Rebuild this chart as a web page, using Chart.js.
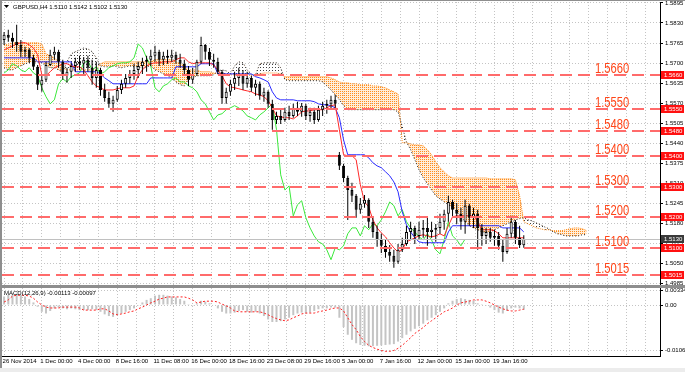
<!DOCTYPE html>
<html>
<head>
<meta charset="utf-8">
<script src="https://cdn.jsdelivr.net/npm/chart.js@4.4.1/dist/chart.umd.min.js"></script>
<style>
  html, body { margin: 0; padding: 0; }
  body { width: 685px; height: 372px; background: #8e8e8e; position: relative; overflow: hidden; }
  canvas { position: absolute; background: #fff; }
  #main { left: 2px; top: 1px; }
  #macd { left: 2px; top: 288px; }
  #tabs { position: absolute; left: 0; top: 368px; width: 685px; height: 4px; background: #ececec; }
</style>
</head>
<body>
<canvas id="main" width="683" height="284"></canvas>
<canvas id="macd" width="683" height="80"></canvas>
<div id="tabs"></div>
<script>
// GBPUSD H4, 26 Nov 2014 - 20 Jan 2015 (one slot = one candle)
const symbol = 'GBPUSD,H4';
const timeLabels = ['26 Nov 2014', '1 Dec 00:00', '4 Dec 00:00', '8 Dec 16:00', '11 Dec 08:00',
  '16 Dec 00:00', '18 Dec 16:00', '23 Dec 08:00', '29 Dec 16:00', '5 Jan 00:00',
  '7 Jan 16:00', '12 Jan 00:00', '15 Jan 00:00', '19 Jan 16:00'];
const priceTicks = [1.5895, 1.5830, 1.5765, 1.5700, 1.5635, 1.5570, 1.5505, 1.5440,
  1.5375, 1.5310, 1.5245, 1.5180, 1.5115, 1.5050, 1.4985];
const levels = [1.5660, 1.5550, 1.5480, 1.5400, 1.5300, 1.5200, 1.5100, 1.5015];
const macdTicks = [0.00334, 0, -0.01061];

const opens = [1.5775,1.5792,1.5782,1.5769,1.5759,1.5737,1.5743,1.5717,1.5688,1.5630,
  1.5646,1.5694,1.5727,1.5737,1.5704,1.5659,1.5672,1.5691,1.5704,1.5698,
  1.5711,1.5685,1.5652,1.5678,1.5613,1.5587,1.5568,1.5581,1.5613,1.5633,
  1.5652,1.5665,1.5678,1.5691,1.5704,1.5711,1.5724,1.5737,1.5711,1.5724,
  1.5717,1.5727,1.5711,1.5698,1.5678,1.5646,1.5665,1.5704,1.5759,1.5737,
  1.5711,1.5704,1.5672,1.5587,1.5607,1.5633,1.5652,1.5665,1.5633,1.5652,
  1.5620,1.5633,1.5594,1.5607,1.5568,1.5516,1.5529,1.5516,1.5542,1.5529,
  1.5555,1.5542,1.5562,1.5529,1.5542,1.5516,1.5549,1.5562,1.5568,1.5581,
  1.5403,1.5367,1.5328,1.5289,1.5270,1.5225,1.5244,1.5257,1.5186,1.5153,
  1.5127,1.5108,1.5088,1.5076,1.5056,1.5095,1.5114,1.5153,1.5166,1.5140,
  1.5160,1.5166,1.5153,1.5160,1.5166,1.5186,1.5212,1.5250,1.5225,1.5212,
  1.5186,1.5238,1.5199,1.5212,1.5166,1.5140,1.5153,1.5134,1.5140,1.5108,
  1.5088,1.5147,1.5186,1.5134,1.5110];
const highs = [1.5801,1.5808,1.5798,1.5824,1.5775,1.5753,1.5749,1.5727,1.5694,1.5662,
  1.5704,1.5743,1.5753,1.5743,1.5711,1.5685,1.5701,1.5717,1.5724,1.5720,
  1.5724,1.5711,1.5704,1.5685,1.5633,1.5607,1.5594,1.5626,1.5646,1.5665,
  1.5678,1.5698,1.5704,1.5717,1.5724,1.5743,1.5756,1.5743,1.5737,1.5743,
  1.5743,1.5737,1.5730,1.5711,1.5691,1.5685,1.5711,1.5785,1.5762,1.5749,
  1.5730,1.5717,1.5678,1.5620,1.5646,1.5672,1.5685,1.5678,1.5672,1.5659,
  1.5646,1.5640,1.5620,1.5612,1.5581,1.5542,1.5549,1.5555,1.5562,1.5568,
  1.5575,1.5571,1.5568,1.5555,1.5555,1.5562,1.5575,1.5581,1.5594,1.5597,
  1.5412,1.5374,1.5335,1.5312,1.5276,1.5263,1.5273,1.5262,1.5199,1.5173,
  1.5147,1.5127,1.5111,1.5095,1.5114,1.5134,1.5173,1.5186,1.5173,1.5186,
  1.5192,1.5199,1.5186,1.5179,1.5212,1.5225,1.5270,1.5257,1.5247,1.5231,
  1.5257,1.5244,1.5231,1.5225,1.5179,1.5166,1.5166,1.5160,1.5153,1.5127,
  1.5166,1.5205,1.5192,1.5173,1.5142];
const lows = [1.5759,1.5769,1.5749,1.5737,1.5720,1.5720,1.5701,1.5678,1.5613,1.5607,
  1.5639,1.5691,1.5711,1.5685,1.5646,1.5636,1.5652,1.5672,1.5678,1.5665,
  1.5672,1.5630,1.5620,1.5594,1.5575,1.5555,1.5542,1.5575,1.5600,1.5620,
  1.5633,1.5646,1.5652,1.5665,1.5672,1.5691,1.5704,1.5691,1.5694,1.5698,
  1.5704,1.5698,1.5685,1.5665,1.5626,1.5633,1.5659,1.5698,1.5711,1.5691,
  1.5685,1.5665,1.5568,1.5568,1.5594,1.5613,1.5626,1.5613,1.5620,1.5607,
  1.5594,1.5581,1.5575,1.5555,1.5484,1.5503,1.5503,1.5510,1.5516,1.5523,
  1.5529,1.5526,1.5516,1.5510,1.5503,1.5510,1.5529,1.5536,1.5549,1.5555,
  1.5354,1.5315,1.5192,1.5250,1.5199,1.5212,1.5231,1.5166,1.5134,1.5105,
  1.5085,1.5069,1.5056,1.5037,1.5050,1.5088,1.5108,1.5127,1.5114,1.5127,
  1.5134,1.5108,1.5134,1.5121,1.5147,1.5160,1.5186,1.5199,1.5179,1.5160,
  1.5147,1.5173,1.5166,1.5095,1.5108,1.5114,1.5121,1.5108,1.5095,1.5056,
  1.5082,1.5134,1.5114,1.5101,1.5102];
const closes = [1.5792,1.5782,1.5769,1.5759,1.5737,1.5743,1.5717,1.5688,1.5630,1.5646,
  1.5694,1.5727,1.5737,1.5704,1.5659,1.5672,1.5691,1.5704,1.5698,1.5711,
  1.5685,1.5652,1.5678,1.5613,1.5587,1.5568,1.5581,1.5613,1.5633,1.5652,
  1.5665,1.5678,1.5691,1.5704,1.5711,1.5724,1.5737,1.5711,1.5724,1.5717,
  1.5727,1.5711,1.5698,1.5678,1.5646,1.5665,1.5704,1.5759,1.5737,1.5711,
  1.5704,1.5672,1.5587,1.5607,1.5633,1.5652,1.5665,1.5633,1.5652,1.5620,
  1.5633,1.5594,1.5607,1.5568,1.5516,1.5529,1.5516,1.5542,1.5529,1.5555,
  1.5542,1.5562,1.5529,1.5542,1.5516,1.5549,1.5562,1.5568,1.5581,1.5568,
  1.5367,1.5328,1.5289,1.5270,1.5225,1.5244,1.5257,1.5186,1.5153,1.5127,
  1.5108,1.5088,1.5076,1.5056,1.5095,1.5114,1.5153,1.5166,1.5140,1.5160,
  1.5166,1.5153,1.5160,1.5166,1.5186,1.5212,1.5250,1.5225,1.5212,1.5186,
  1.5238,1.5199,1.5212,1.5166,1.5140,1.5153,1.5134,1.5140,1.5108,1.5088,
  1.5147,1.5186,1.5134,1.5110,1.5130];

// Ichimoku lines
const tenkan = [1.5743,1.5749,1.5756,1.5762,1.5766,1.5766,1.5759,1.5749,1.5727,1.5662,
  1.5659,1.5672,1.5685,1.5691,1.5698,1.5698,1.5691,1.5688,1.5688,1.5678,
  1.5659,1.5639,1.5626,1.5620,1.5613,1.5613,1.5613,1.5617,1.5620,1.5620,
  1.5620,1.5626,1.5659,1.5678,1.5691,1.5698,1.5701,1.5701,1.5704,1.5704,
  1.5704,1.5711,1.5717,1.5717,1.5704,1.5698,1.5701,1.5701,1.5701,1.5701,
  1.5694,1.5678,1.5659,1.5633,1.5623,1.5620,1.5617,1.5613,1.5610,1.5607,
  1.5600,1.5597,1.5591,1.5578,1.5555,1.5529,1.5526,1.5523,1.5523,1.5519,
  1.5529,1.5542,1.5545,1.5545,1.5549,1.5549,1.5549,1.5555,1.5562,1.5565,
  1.5484,1.5403,1.5400,1.5400,1.5387,1.5306,1.5250,1.5234,1.5192,1.5166,
  1.5150,1.5137,1.5118,1.5101,1.5088,1.5095,1.5121,1.5127,1.5134,1.5140,
  1.5144,1.5140,1.5137,1.5140,1.5147,1.5140,1.5173,1.5202,1.5205,1.5205,
  1.5205,1.5205,1.5205,1.5186,1.5160,1.5160,1.5160,1.5157,1.5147,1.5134,
  1.5134,1.5134,1.5134,1.5134,1.5134];
const kijun = [1.5717,1.5717,1.5717,1.5717,1.5717,1.5717,1.5717,1.5717,1.5704,1.5704,
  1.5704,1.5704,1.5704,1.5704,1.5704,1.5704,1.5704,1.5672,1.5672,1.5672,
  1.5672,1.5672,1.5672,1.5665,1.5652,1.5643,1.5633,1.5633,1.5633,1.5633,
  1.5633,1.5633,1.5633,1.5633,1.5633,1.5652,1.5652,1.5652,1.5652,1.5652,
  1.5652,1.5688,1.5688,1.5688,1.5688,1.5688,1.5688,1.5698,1.5698,1.5698,
  1.5698,1.5665,1.5665,1.5665,1.5665,1.5665,1.5665,1.5665,1.5665,1.5665,
  1.5656,1.5652,1.5646,1.5639,1.5607,1.5587,1.5581,1.5581,1.5581,1.5581,
  1.5578,1.5578,1.5578,1.5578,1.5575,1.5568,1.5565,1.5565,1.5562,1.5555,
  1.5523,1.5451,1.5403,1.5403,1.5403,1.5403,1.5403,1.5393,1.5377,1.5367,
  1.5361,1.5348,1.5335,1.5315,1.5283,1.5218,1.5176,1.5153,1.5134,1.5121,
  1.5118,1.5118,1.5118,1.5118,1.5118,1.5118,1.5153,1.5173,1.5173,1.5173,
  1.5173,1.5173,1.5173,1.5173,1.5173,1.5173,1.5173,1.5173,1.5173,1.5166,
  1.5166,1.5166,1.5166,1.5166,1.5153];
const chikou = [1.5668,1.5678,1.5698,1.5691,1.5678,1.5672,1.5685,1.5668,1.5659,1.5620,
  1.5591,1.5568,1.5581,1.5633,1.5649,1.5639,1.5656,1.5662,1.5668,1.5701,
  1.5707,1.5678,1.5688,1.5665,1.5672,1.5685,1.5691,1.5698,1.5701,1.5701,
  1.5704,1.5717,1.5762,1.5749,1.5717,1.5691,1.5620,1.5607,1.5626,1.5633,
  1.5646,1.5652,1.5639,1.5639,1.5626,1.5620,1.5607,1.5581,1.5568,1.5542,
  1.5516,1.5532,1.5536,1.5549,1.5555,1.5562,1.5555,1.5545,1.5529,1.5523,
  1.5516,1.5532,1.5542,1.5555,1.5568,1.5484,1.5338,1.5289,1.5302,1.5205,
  1.5241,1.5254,1.5199,1.5166,1.5140,1.5121,1.5114,1.5095,1.5063,1.5101,
  1.5095,1.5108,1.5147,1.5166,1.5166,1.5140,1.5173,1.5160,1.5179,1.5173,
  1.5192,1.5218,1.5250,1.5238,1.5205,1.5225,1.5186,1.5166,1.5153,1.5137,
  1.5127,1.5147,1.5127,1.5095,1.5082,1.5127,1.5186,1.5140,1.5127,1.5108,
  1.5130];
const spanA = [1.5685,1.5678,1.5678,1.5685,1.5691,1.5698,1.5701,1.5704,1.5704,1.5701,
  1.5691,1.5685,1.5685,1.5678,1.5672,1.5704,1.5730,1.5737,1.5743,1.5749,
  1.5746,1.5737,1.5717,1.5691,1.5688,1.5688,1.5691,1.5688,1.5685,1.5688,
  1.5691,1.5688,1.5688,1.5685,1.5688,1.5691,1.5678,1.5672,1.5665,1.5659,
  1.5652,1.5639,1.5630,1.5626,1.5646,1.5652,1.5659,1.5659,1.5659,1.5659,
  1.5662,1.5675,1.5678,1.5675,1.5665,1.5691,1.5704,1.5701,1.5678,1.5662,
  1.5662,1.5698,1.5701,1.5701,1.5701,1.5701,1.5685,1.5646,1.5643,1.5643,
  1.5643,1.5643,1.5643,1.5643,1.5643,1.5643,1.5639,1.5626,1.5613,1.5597,
  1.5581,1.5562,1.5549,1.5549,1.5549,1.5549,1.5549,1.5549,1.5549,1.5549,
  1.5549,1.5549,1.5549,1.5549,1.5542,1.5494,1.5445,1.5419,1.5387,1.5354,
  1.5328,1.5309,1.5289,1.5270,1.5260,1.5250,1.5241,1.5234,1.5218,1.5205,
  1.5186,1.5173,1.5166,1.5160,1.5153,1.5153,1.5153,1.5160,1.5166,1.5173,
  1.5179,1.5186,1.5192,1.5196,1.5199,1.5192,1.5189,1.5182,1.5176,1.5169,
  1.5163,1.5153,1.5147,1.5144,1.5140,1.5140,1.5140,1.5140,1.5144,1.5144];
const spanB = [1.5759,1.5762,1.5766,1.5766,1.5766,1.5766,1.5766,1.5766,1.5766,1.5762,
  1.5730,1.5724,1.5717,1.5704,1.5685,1.5678,1.5678,1.5678,1.5678,1.5678,
  1.5678,1.5678,1.5678,1.5698,1.5704,1.5704,1.5704,1.5704,1.5704,1.5704,
  1.5704,1.5704,1.5704,1.5704,1.5704,1.5704,1.5711,1.5711,1.5711,1.5711,
  1.5711,1.5704,1.5698,1.5691,1.5678,1.5678,1.5678,1.5672,1.5672,1.5672,
  1.5668,1.5665,1.5665,1.5665,1.5662,1.5662,1.5662,1.5662,1.5662,1.5659,
  1.5659,1.5665,1.5668,1.5668,1.5668,1.5668,1.5665,1.5656,1.5656,1.5656,
  1.5656,1.5656,1.5656,1.5656,1.5656,1.5656,1.5656,1.5656,1.5652,1.5646,
  1.5639,1.5636,1.5636,1.5633,1.5633,1.5630,1.5630,1.5630,1.5626,1.5626,
  1.5623,1.5620,1.5613,1.5607,1.5600,1.5442,1.5442,1.5438,1.5435,1.5435,
  1.5432,1.5419,1.5403,1.5380,1.5361,1.5348,1.5335,1.5328,1.5328,1.5328,
  1.5328,1.5328,1.5328,1.5328,1.5328,1.5328,1.5325,1.5325,1.5325,1.5325,
  1.5325,1.5325,1.5322,1.5270,1.5186,1.5179,1.5173,1.5166,1.5163,1.5160,
  1.5160,1.5157,1.5157,1.5157,1.5160,1.5163,1.5166,1.5166,1.5163,1.5157];

// MACD(12,26,9)
const macdMain = [0.0020,0.0024,0.0026,0.0026,0.0024,0.0020,0.0014,0.0006,-0.0004,-0.0016,
  -0.0020,-0.0014,-0.0008,-0.0006,-0.0008,-0.0010,-0.0008,-0.0010,-0.0012,-0.0012,
  -0.0012,-0.0010,-0.0012,-0.0016,-0.0022,-0.0026,-0.0028,-0.0024,-0.0020,-0.0016,
  -0.0012,-0.0008,-0.0002,0.0006,0.0012,0.0016,0.0022,0.0024,0.0024,0.0022,
  0.0020,0.0018,0.0014,0.0010,0.0002,-0.0002,0.0004,0.0010,0.0008,0.0004,
  0.0000,-0.0008,-0.0016,-0.0020,-0.0020,-0.0018,-0.0014,-0.0012,-0.0016,-0.0018,
  -0.0016,-0.0020,-0.0026,-0.0034,-0.0040,-0.0040,-0.0038,-0.0034,-0.0030,-0.0024,
  -0.0020,-0.0018,-0.0020,-0.0018,-0.0014,-0.0010,-0.0008,-0.0008,-0.0006,-0.0006,
  -0.0030,-0.0052,-0.0070,-0.0082,-0.0090,-0.0094,-0.0096,-0.0097,-0.0097,-0.0096,
  -0.0095,-0.0094,-0.0093,-0.0092,-0.0086,-0.0078,-0.0070,-0.0062,-0.0056,-0.0050,
  -0.0044,-0.0036,-0.0030,-0.0024,-0.0016,-0.0008,0.0004,0.0010,0.0014,0.0016,
  0.0014,0.0012,0.0010,0.0004,0.0002,-0.0002,-0.0006,-0.0012,-0.0018,-0.0020,
  -0.0014,-0.0008,-0.0006,-0.0008,-0.00113];
const macdSignal = [0.0007,0.0012,0.0021,0.0023,0.0023,0.0023,0.0021,0.0016,0.0007,0.0000,
  -0.0005,-0.0007,-0.0007,-0.0007,-0.0005,-0.0005,-0.0005,-0.0005,-0.0007,-0.0012,
  -0.0012,-0.0012,-0.0012,-0.0009,-0.0009,-0.0014,-0.0021,-0.0023,-0.0021,-0.0019,
  -0.0016,-0.0014,-0.0009,-0.0005,0.0000,0.0005,0.0009,0.0014,0.0016,0.0019,
  0.0019,0.0019,0.0019,0.0019,0.0016,0.0012,0.0005,0.0007,0.0009,0.0009,
  0.0009,0.0007,0.0002,-0.0002,-0.0007,-0.0014,-0.0016,-0.0016,-0.0016,-0.0016,
  -0.0016,-0.0016,-0.0019,-0.0023,-0.0028,-0.0032,-0.0035,-0.0037,-0.0035,-0.0030,
  -0.0026,-0.0021,-0.0019,-0.0019,-0.0019,-0.0016,-0.0014,-0.0012,-0.0009,-0.0007,
  -0.0007,-0.0014,-0.0030,-0.0046,-0.0058,-0.0074,-0.0086,-0.0095,-0.0100,-0.0104,
  -0.0107,-0.0109,-0.0109,-0.0107,-0.0102,-0.0095,-0.0086,-0.0077,-0.0067,-0.0060,
  -0.0053,-0.0044,-0.0037,-0.0030,-0.0023,-0.0016,-0.0012,-0.0007,0.0000,0.0005,
  0.0007,0.0009,0.0012,0.0012,0.0012,0.0009,0.0005,0.0000,-0.0005,-0.0009,
  -0.0012,-0.0014,-0.0014,-0.0012,-0.00097];

Chart.defaults.font.family = '"Liberation Sans", Arial, sans-serif';
Chart.defaults.color = '#000';

const X_MIN = -0.5, X_MAX = 156.5;
const gridSteps = [];
for (let v = 0; v <= X_MAX; v += 4.5) gridSteps.push(v);
const last = closes.length - 1;
const pts = arr => arr.map((v, i) => ({ x: i, y: v }));

function dotPattern(color, tint, w, h) {
  const c = document.createElement('canvas');
  c.width = w; c.height = h;
  const g = c.getContext('2d');
  if (tint) { g.fillStyle = tint; g.fillRect(0, 0, w, h); }
  g.fillStyle = color;
  g.fillRect(0, 0, 1, 1);
  return g.createPattern(c, 'repeat');
}
const orangeDots = dotPattern('#ff8c1a', 'rgba(255,190,120,0.28)', 2, 2);
const blackDots = dotPattern('#404040', null, 3, 3);

function xAxis(withLabels) {
  return {
    type: 'linear', min: X_MIN, max: X_MAX, offset: false,
    grid: { color: '#c4c4c4', drawTicks: false, offset: false },
    border: { display: withLabels, color: '#000', dash: [1, 2] },
    afterBuildTicks: s => { s.ticks = gridSteps.map(v => ({ value: v })); },
    afterFit: s => { s.height = withLabels ? 12 : 0; s.paddingLeft = 0; s.paddingRight = 0; },
    ticks: {
      display: withLabels, autoSkip: false, maxRotation: 0, align: 'start',
      labelOffset: -1.5, padding: 2, font: { size: 6 },
      callback: v => (v % 9 === 0 ? (timeLabels[v / 9] || '') : '')
    }
  };
}

function yAxis(min, max, tickValues, fmt) {
  return {
    type: 'linear', position: 'right', min: min, max: max,
    grid: { color: '#c4c4c4', tickColor: '#000', tickLength: 3, tickBorderDash: [] },
    border: { display: true, color: '#000', dash: [1, 2] },
    afterBuildTicks: s => { s.ticks = tickValues.map(v => ({ value: v })); },
    afterFit: s => { s.width = 25; s.paddingTop = 0; s.paddingBottom = 0; },
    ticks: { padding: 2, font: { size: 6 }, callback: fmt }
  };
}

const common = {
  responsive: false, animation: false, events: [],
  plugins: { legend: { display: false }, tooltip: { enabled: false } },
  elements: { point: { radius: 0 }, line: { borderWidth: 1, tension: 0 } }
};

// price window decorations: levels, bid line, axis boxes, title
const priceDecor = {
  id: 'priceDecor',
  afterDatasetsDraw(chart) {
    const { ctx, chartArea: a, scales: { y } } = chart;
    ctx.save();
    const by = Math.round(y.getPixelForValue(closes[last])) + 0.5;
    ctx.strokeStyle = '#c0c0c0'; ctx.lineWidth = 1;
    ctx.beginPath(); ctx.moveTo(a.left, by); ctx.lineTo(a.right, by); ctx.stroke();
    ctx.strokeStyle = '#ff6b6b'; ctx.lineWidth = 2; ctx.setLineDash([12, 6]);
    levels.forEach(lv => {
      const py = Math.round(y.getPixelForValue(lv));
      ctx.beginPath(); ctx.moveTo(a.left, py); ctx.lineTo(a.right, py); ctx.stroke();
    });
    ctx.setLineDash([]);
    ctx.fillStyle = '#ff4518'; ctx.font = '14px "Liberation Sans"'; ctx.textBaseline = 'alphabetic';
    levels.forEach(lv => {
      const py = y.getPixelForValue(lv);
      ctx.save(); ctx.translate(593, py - 2); ctx.scale(0.8, 1);
      ctx.fillText(lv.toFixed(4), 0, 0); ctx.restore();
    });
    ctx.restore();
  },
  afterDraw(chart) {
    const { ctx, chartArea: a, scales: { y } } = chart;
    ctx.save();
    const box = (v, bg) => {
      const py = Math.round(y.getPixelForValue(v));
      ctx.fillStyle = bg; ctx.fillRect(a.right + 1, py - 4, 23, 8);
      ctx.fillStyle = '#fff'; ctx.font = '6px "Liberation Sans"'; ctx.textBaseline = 'middle';
      ctx.fillText(v.toFixed(4), a.right + 4, py + 0.5);
    };
    levels.forEach(lv => box(lv, '#ff1010'));
    box(closes[last], '#3a3a3a');
    ctx.fillStyle = '#000';
    ctx.beginPath(); ctx.moveTo(2, 4); ctx.lineTo(7, 4); ctx.lineTo(4.5, 7); ctx.closePath(); ctx.fill();
    ctx.font = '6px "Liberation Sans"'; ctx.textBaseline = 'middle';
    ctx.fillText(`${symbol} ${opens[last].toFixed(4)} ${highs[last].toFixed(4)} ${lows[last].toFixed(4)} ${closes[last].toFixed(4)}`, 11, 6);
    ctx.restore();
  }
};

new Chart(document.getElementById('main'), {
  type: 'bar',
  data: {
    datasets: [
      { type: 'bar', label: 'Body', data: opens.map((o, i) => ({ x: i, y: [o, closes[i]] })),
        backgroundColor: opens.map((o, i) => (closes[i] >= o ? '#ffffff' : '#000000')),
        borderColor: '#000', borderWidth: 1, borderSkipped: false, barThickness: 3,
        inflateAmount: 0, grouped: false, order: 0 },
      { type: 'bar', label: 'Wick', data: lows.map((l, i) => ({ x: i, y: [l, highs[i]] })),
        backgroundColor: '#000', barThickness: 1, inflateAmount: 0, grouped: false, order: 1 },
      { type: 'line', label: 'Tenkan-sen', data: pts(tenkan), borderColor: '#ff2a2a', order: 2 },
      { type: 'line', label: 'Kijun-sen', data: pts(kijun), borderColor: '#2b2bff', order: 3 },
      { type: 'line', label: 'Chikou Span', data: pts(chikou), borderColor: '#3be83b', order: 4 },
      { type: 'line', label: 'Senkou Span A', data: pts(spanA), borderColor: '#222', borderDash: [1, 2], order: 5 },
      { type: 'line', label: 'Senkou Span B', data: pts(spanB), borderColor: '#ff8c1a', borderDash: [1, 1], order: 6,
        fill: { target: 5, above: orangeDots, below: blackDots } }
    ]
  },
  options: Object.assign({}, common, {
    layout: { padding: { top: 1, left: 0, right: 0, bottom: 0 } },
    scales: {
      x: xAxis(false),
      y: yAxis(1.4981, 1.5898, priceTicks, v => v.toFixed(4))
    }
  }),
  plugins: [priceDecor]
});

const macdDecor = {
  id: 'macdDecor',
  afterDraw(chart) {
    const { ctx } = chart;
    ctx.save();
    ctx.fillStyle = '#000'; ctx.font = '6px "Liberation Sans"'; ctx.textBaseline = 'middle';
    ctx.fillText(`MACD(12,26,9) ${macdMain[last].toFixed(5)} ${macdSignal[last].toFixed(5)}`, 2, 5);
    ctx.restore();
  }
};

new Chart(document.getElementById('macd'), {
  type: 'bar',
  data: {
    datasets: [
      { type: 'bar', label: 'MACD', data: pts(macdMain), backgroundColor: '#c4c4c4',
        barThickness: 2, inflateAmount: 0, grouped: false, order: 1 },
      { type: 'line', label: 'Signal', data: pts(macdSignal), borderColor: '#ff2020',
        borderDash: [2, 2], order: 0 }
    ]
  },
  options: Object.assign({}, common, {
    layout: { padding: 0 },
    scales: {
      x: xAxis(true),
      y: yAxis(-0.0120, 0.0040, macdTicks, v => (v === 0 ? '0.00' : v.toFixed(5)))
    }
  }),
  plugins: [macdDecor]
});
</script>
</body>
</html>
